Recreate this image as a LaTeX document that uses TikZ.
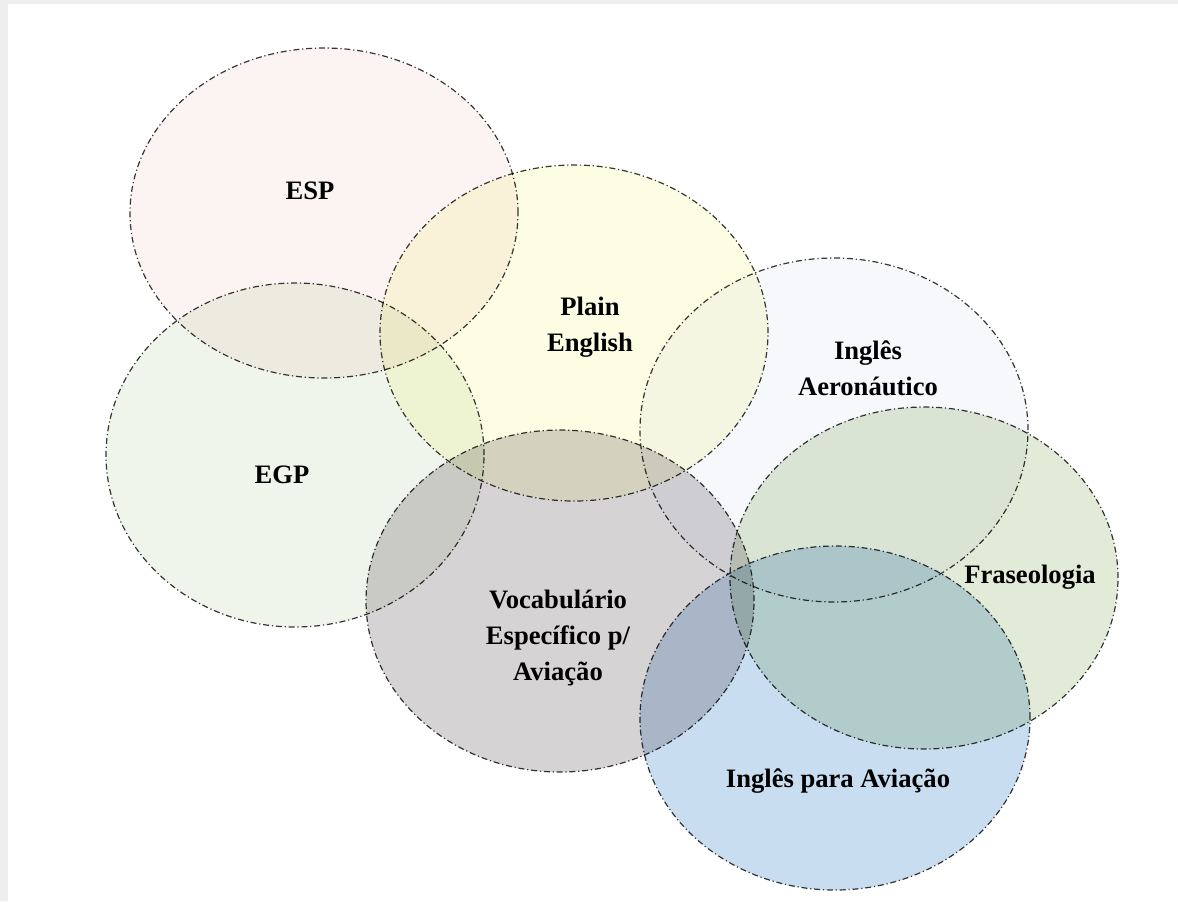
\documentclass[tikz,border=0pt]{standalone}
\usepackage{fontspec}
\setmainfont{Liberation Serif}
\usetikzlibrary{shapes.geometric, positioning}

\definecolor{espfill}{RGB}{252,244,242}
\definecolor{egpfill}{RGB}{240,245,235}
\definecolor{plainfill}{RGB}{253,253,228}
\definecolor{aerofill}{RGB}{246,248,252}
\definecolor{frasefill}{RGB}{226,235,216}
\definecolor{vocabfill}{RGB}{214,211,213}
\definecolor{aviafill}{RGB}{201,221,240}
\definecolor{ringline}{RGB}{55,55,55}
\definecolor{edgegray}{RGB}{238,238,238}

\begin{document}
\begin{tikzpicture}[x=0.5pt, y=-0.5pt]
            \tikzset{
                ring/.style={
                        ellipse, draw=ringline, line width=0.6pt, inner sep=0pt,
                        dash pattern=on 3pt off 1.4pt on 0.6pt off 1.4pt,
                        blend mode=multiply
                    },
                lbl/.style={
                        align=center, font=\bfseries\fontsize{13.3}{17.8}\selectfont
                    }
            }

            % Canvas
            \useasboundingbox (0,0) rectangle (1178,901);
            \fill[edgegray] (0,0) rectangle (8,901);
            \fill[edgegray] (0,0) rectangle (1178,4);

            % Sets
            \node[ring, fill=espfill, minimum width=194pt, minimum height=165pt] (esp) at (324,213) {};
            \node[ring, fill=egpfill, minimum width=189pt, minimum height=172pt] (egp) at (295,455) {};
            \node[ring, fill=plainfill, minimum width=194pt, minimum height=168pt] (plain) at (574,333) {};
            \node[ring, fill=aerofill, minimum width=194pt, minimum height=172pt] (aero) at (834,430) {};
            \node[ring, fill=frasefill, minimum width=194pt, minimum height=171pt] (frase) at (924,578) {};
            \node[ring, fill=vocabfill, minimum width=194pt, minimum height=171pt] (vocab) at (560,601) {};
            \node[ring, fill=aviafill, minimum width=195pt, minimum height=172pt] (avia) at (835,718) {};

            % Labels
            \node[lbl] (esplbl) at (310,191) {ESP};
            \node[lbl] (egplbl) at (282,475) {EGP};
            \node[lbl] (plainlbl) at (590,327) {Plain\\English};
            \node[lbl] (aerolbl) at (868,368) {Inglês\\Aeronáutico};
            \node[lbl] (fraselbl) at (1030,577) {Fraseologia};
            \node[lbl] (vocablbl) at (558,638) {Vocabulário\\Específico p/\\Aviação};
            \node[lbl] (avialbl) at (838,781) {Inglês para Aviação};
        \end{tikzpicture}
\end{document}
